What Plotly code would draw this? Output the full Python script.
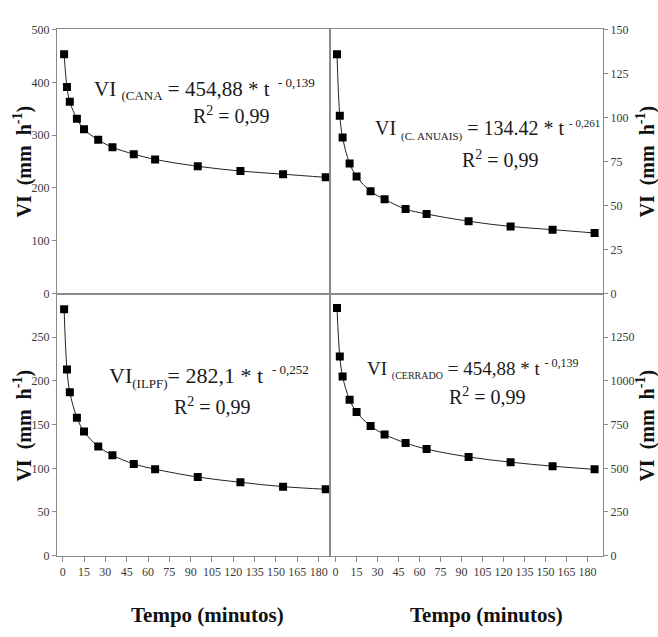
import plotly.graph_objects as go

# ---- data ----
tempo = [1, 3, 5, 10, 15, 25, 35, 50, 65, 95, 125, 155, 185]
vi_cana = [453, 391, 363, 331, 311, 291, 277, 264, 254, 241, 232, 226, 220]
vi_anuais = [136, 101, 88.7, 73.9, 66.5, 58.1, 53.5, 48.0, 45.2, 41.1, 38.1, 36.3, 34.4]
vi_ilpf = [282, 213, 187, 158, 142, 125, 115, 105, 99, 90, 84, 79, 76]
vi_cerrado = [1417, 1140, 1025, 892, 822, 742, 694, 645, 610, 565, 535, 512, 494]

x_ticks = [0, 15, 30, 45, 60, 75, 90, 105, 120, 135, 150, 165, 180]
y_ticks_tl = [0, 100, 200, 300, 400, 500]
y_ticks_tr = [0, 25, 50, 75, 100, 125, 150]
y_ticks_bl = [0, 50, 100, 150, 200, 250]
y_ticks_br = [0, 250, 500, 750, 1000, 1250]

W, H = 658, 637
def px(x):
    return x / W
def py(y):
    return 1 - y / H

SERIF = "Liberation Serif"
LINE = "#8a8a8a"
TICKFONT = dict(family=SERIF, size=12, color="#3a3a3a")

fig = go.Figure()
series = [(vi_cana, "x", "y"), (vi_anuais, "x2", "y2"),
          (vi_ilpf, "x3", "y3"), (vi_cerrado, "x4", "y4")]
for vals, xa, ya in series:
    fig.add_trace(go.Scatter(
        x=tempo, y=vals, xaxis=xa, yaxis=ya, mode="lines+markers",
        line=dict(color="#222222", width=1, shape="spline"),
        marker=dict(symbol="square", size=8, color="black"),
        showlegend=False))

xl = [px(57), px(330)]
xr = [px(330), px(603)]
yt = [py(293), py(23)]
yb = [py(561), py(293)]

def xax(domain, anchor, rng, labels):
    return dict(domain=domain, anchor=anchor, range=rng,
                showline=True, linecolor=LINE, linewidth=1, mirror=True,
                showgrid=False, zeroline=False,
                tickmode="array", tickvals=x_ticks,
                showticklabels=labels, ticks="outside" if labels else "",
                ticklen=5, tickcolor=LINE, tickfont=TICKFONT)

def yax(domain, anchor, rng, vals, side):
    return dict(domain=domain, anchor=anchor, range=rng, side=side,
                showline=True, linecolor=LINE, linewidth=1, mirror=True,
                showgrid=False, zeroline=False,
                tickmode="array", tickvals=vals, ticks="outside",
                ticklen=4, tickcolor=LINE, tickfont=TICKFONT)

fig.update_layout(
    width=W, height=H, margin=dict(l=0, r=0, t=0, b=0),
    paper_bgcolor="white", plot_bgcolor="white",
    xaxis=xax(xl, "y", [-4, 188], False),
    yaxis=yax(yt, "x", [0, 500], y_ticks_tl, "left"),
    xaxis2=xax(xr, "y2", [-4, 191], False),
    yaxis2=yax(yt, "x2", [0, 150], y_ticks_tr, "right"),
    xaxis3=xax(xl, "y3", [-4, 188], True),
    yaxis3=yax(yb, "x3", [0, 300], y_ticks_bl, "left"),
    xaxis4=xax(xr, "y4", [-4, 191], True),
    yaxis4=yax(yb, "x4", [0, 1500], y_ticks_br, "right"),
)

ann = []
TXT = "#1a1a1a"
def eq(x, y, text, size=20, anchor="left"):
    ann.append(dict(x=px(x), y=py(y), xref="paper", yref="paper",
                    text=text, showarrow=False, xanchor=anchor, yanchor="middle",
                    font=dict(family=SERIF, size=size, color=TXT)))

def sub(s, fs=13):
    return "<sub><span style='font-size:%dpx'>%s</span></sub>" % (fs, s)
def sup(s, fs=13):
    return "<sup><span style='font-size:%dpx'>%s</span></sup>" % (fs, s)

eq(92, 84, "VI " + sub("(CANA", 13) + " = 454,88 * t " + sup(" - 0,139", 13), size=21)
eq(191, 110, "R<sup>2</sup> = 0,99")
eq(373, 126, "VI " + sub("(C. ANUAIS)", 11) + " = 134.42 * t " + sup("- 0,261", 11), size=20)
eq(460, 155, "R<sup>2</sup> = 0,99")
eq(107, 378, "VI" + sub("(ILPF)", 13) + "= 282,1 * t " + sup(" - 0,252", 13), size=22)
eq(172, 408, "R<sup>2</sup> = 0,99")
eq(365, 370, "VI " + sub("(CERRADO", 10) + " = 454,88 * t " + sup("- 0,139", 12), size=19)
eq(447, 398, "R<sup>2</sup> = 0,99")

def ytitle(x, y):
    ann.append(dict(x=px(x), y=py(y), xref="paper", yref="paper",
                    text="<b>VI  (mm  h<sup>-1</sup>)</b>", showarrow=False,
                    textangle=-90, xanchor="center", yanchor="middle",
                    font=dict(family=SERIF, size=20, color="#111111")))

ytitle(23, 158)
ytitle(23, 428)
ytitle(646, 158)
ytitle(646, 428)

for xc in (207, 486):
    ann.append(dict(x=px(xc), y=py(622), xref="paper", yref="paper",
                    text="<b>Tempo (minutos)</b>", showarrow=False,
                    xanchor="center", yanchor="middle",
                    font=dict(family=SERIF, size=21, color="#111111")))

fig.update_layout(annotations=ann)
fig.write_html("out.html")
